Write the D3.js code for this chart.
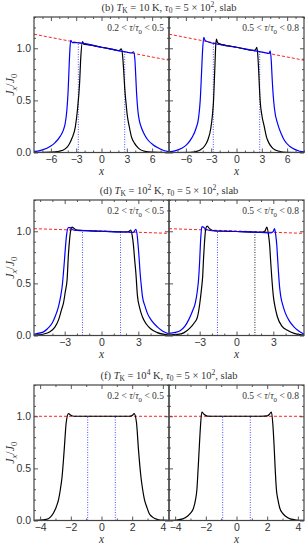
<!DOCTYPE html>
<html>
<head>
<meta charset="utf-8">
<script src="https://cdn.jsdelivr.net/npm/d3@7"></script>
<style>
body { margin: 0; background: #fff; }
svg { display: block; font-family: "Liberation Serif", "DejaVu Serif", serif; }
</style>
</head>
<body>
<div id="chart"></div>
<script>

// ---- values ----

// (b) T_K = 10 K
var bLeftBlack = [[-8,0],[-6,0.003],[-5,0.012],[-4.3,0.035],[-3.9,0.07],[-3.5,0.137],[-3.1,0.245],[-2.85,0.41],[-2.6,0.66],[-2.45,0.92],[-2.25,1.065],[-2.1,1.04],[-1.5,1.033],[0,1.01],[1.5,0.987],[2.1,0.978],[2.35,0.995],[2.5,0.93],[2.62,0.8],[2.75,0.62],[2.9,0.48],[3.05,0.36],[3.3,0.245],[3.55,0.15],[3.9,0.09],[4.4,0.04],[5.1,0.012],[6,0.003],[8,0]]
var bLeftBlue = [[-8,0.008],[-7,0.025],[-6.1,0.057],[-5.5,0.095],[-4.9,0.155],[-4.5,0.22],[-4.3,0.28],[-4.1,0.41],[-3.95,0.6],[-3.85,0.8],[-3.75,0.98],[-3.65,1.075],[-3.45,1.055],[-3,1.055],[0,1.01],[3,0.963],[3.55,0.955],[3.8,0.965],[3.95,0.9],[4.05,0.75],[4.15,0.58],[4.3,0.41],[4.5,0.3],[4.7,0.245],[5.1,0.17],[5.5,0.12],[6.1,0.075],[6.7,0.045],[7.3,0.022],[8,0.008]]
var bRightBlack = [[-8,0],[-5.5,0.002],[-4.8,0.01],[-4.3,0.025],[-3.8,0.06],[-3.4,0.12],[-3.05,0.23],[-2.85,0.36],[-2.72,0.5],[-2.62,0.7],[-2.55,0.85],[-2.48,1.0],[-2.38,1.088],[-2.25,1.055],[-2,1.042],[0,1.01],[2,0.979],[2.25,0.985],[2.4,1.008],[2.52,0.94],[2.62,0.8],[2.72,0.62],[2.82,0.48],[3,0.36],[3.3,0.245],[3.55,0.15],[3.85,0.09],[4.3,0.04],[5,0.012],[6,0.002],[8,0]]
var bRightBlue = [[-8,0.005],[-7.3,0.015],[-6.5,0.04],[-5.9,0.075],[-5.3,0.14],[-4.8,0.23],[-4.5,0.33],[-4.3,0.5],[-4.15,0.75],[-4.02,0.98],[-3.88,1.105],[-3.72,1.075],[-3.5,1.065],[0,1.01],[3.5,0.955],[3.85,0.95],[4,0.975],[4.12,0.88],[4.22,0.72],[4.35,0.55],[4.5,0.42],[4.9,0.27],[5.3,0.18],[5.65,0.12],[6.3,0.06],[6.9,0.03],[7.5,0.012],[8,0.005]]
var bRed = [[-8,1.135],[8,0.885]]
var bDotsBlue = [[-2.75,1.053],[2.75,0.967]]
var bTicks = [-6,-3,0,3,6]

// (d) T_K = 10^2 K
var dLeftBlack = [[-5.5,0.003],[-4.8,0.012],[-4.2,0.035],[-3.8,0.08],[-3.5,0.15],[-3.25,0.25],[-3.1,0.31],[-2.95,0.42],[-2.8,0.54],[-2.7,0.77],[-2.6,0.92],[-2.52,1.0],[-2.4,1.04],[-2.25,1.028],[-2,1.012],[0,1.0],[2,0.993],[2.25,1.0],[2.38,1.012],[2.5,0.96],[2.6,0.87],[2.7,0.73],[2.8,0.6],[2.93,0.38],[3.1,0.27],[3.33,0.18],[3.65,0.11],[4,0.065],[4.5,0.03],[5.1,0.01],[5.5,0.004]]
var dLeftBlue = [[-5.5,0.012],[-5,0.025],[-4.73,0.035],[-4.4,0.065],[-4.04,0.115],[-3.75,0.19],[-3.5,0.28],[-3.32,0.38],[-3.2,0.475],[-3.03,0.705],[-2.93,0.86],[-2.85,0.96],[-2.7,1.035],[-2.55,1.035],[-2.35,1.015],[-2,1.008],[0,1.0],[2,0.993],[2.6,0.99],[2.8,1.018],[2.92,0.95],[2.98,0.87],[3.06,0.75],[3.14,0.61],[3.25,0.47],[3.33,0.38],[3.55,0.28],[3.75,0.21],[4.1,0.14],[4.57,0.08],[5,0.04],[5.5,0.015]]
var dRightBlack = [[-5.5,0.005],[-4.8,0.01],[-4.3,0.025],[-3.8,0.07],[-3.45,0.12],[-3.2,0.17],[-3,0.3],[-2.85,0.45],[-2.76,0.56],[-2.68,0.75],[-2.62,0.87],[-2.55,0.98],[-2.48,1.035],[-2.38,1.05],[-2.2,1.025],[-1.8,1.005],[0,0.998],[2,0.99],[2.3,1.0],[2.48,1.04],[2.6,0.97],[2.7,0.87],[2.78,0.72],[2.86,0.58],[3,0.38],[3.15,0.27],[3.33,0.18],[3.7,0.09],[4.15,0.05],[4.7,0.02],[5.2,0.008],[5.5,0.005]]
var dRightBlue = [[-5.5,0.02],[-5,0.03],[-4.6,0.045],[-4.2,0.09],[-3.9,0.15],[-3.6,0.23],[-3.36,0.31],[-3.2,0.42],[-3.09,0.54],[-3,0.72],[-2.95,0.85],[-2.9,0.96],[-2.82,1.045],[-2.7,1.04],[-2.5,1.02],[-2,1.005],[0,0.998],[2,0.99],[2.8,0.985],[3,1.0],[3.1,1.025],[3.2,0.96],[3.28,0.87],[3.35,0.74],[3.42,0.61],[3.5,0.48],[3.6,0.38],[3.8,0.28],[4,0.21],[4.3,0.14],[4.7,0.08],[5.1,0.04],[5.5,0.012]]
var dRed = [[-5.5,1.025],[5.5,0.98]]
var dLeftDotsBlue = [[-1.55,1.0],[1.55,0.995]]
var dRightDotsBlue = [[-1.55,1.0]]
var dRightDotsBlack = [[1.5,0.99]]
var dTicks = [-3,0,3]

// (f) T_K = 10^4 K
var fLeftBlack = [[-4.4,0.002],[-4,0.003],[-3.6,0.01],[-3.35,0.03],[-3.14,0.07],[-2.95,0.13],[-2.8,0.2],[-2.68,0.3],[-2.57,0.42],[-2.43,0.68],[-2.3,0.94],[-2.15,1.025],[-2,1.01],[-1.8,1.0],[1.8,1.0],[2,1.008],[2.13,1.025],[2.28,0.94],[2.41,0.68],[2.57,0.42],[2.68,0.3],[2.8,0.2],[2.95,0.13],[3.1,0.07],[3.35,0.03],[3.66,0.01],[4,0.003],[4.4,0.002]]
var fRightBlack = [[-4.4,0.002],[-3.9,0.005],[-3.5,0.015],[-3.2,0.04],[-3,0.07],[-2.8,0.12],[-2.67,0.2],[-2.58,0.3],[-2.5,0.5],[-2.42,0.72],[-2.35,0.9],[-2.26,1.04],[-2.12,1.02],[-1.9,1.002],[-1.5,1.0],[1.6,1.0],[2,1.003],[2.15,1.02],[2.28,1.04],[2.38,0.9],[2.45,0.72],[2.52,0.5],[2.6,0.3],[2.7,0.2],[2.82,0.12],[3,0.07],[3.2,0.04],[3.5,0.015],[3.9,0.005],[4.4,0.002]]
var fRed = [[-4.4,1.0],[4.4,1.0]]
var fDotsBlue = [[-0.9,1.0],[0.9,1.0]]
var fTicks = [-4,-2,0,2,4]

var yTicks = [0, 0.5, 1.0]

// labels
var tauLow = [{t:"0.2 < "},{t:"τ",i:1},{t:"/"},{t:"τ",i:1},{t:"0",s:"sub"},{t:" < 0.5"}]
var tauHigh = [{t:"0.5 < "},{t:"τ",i:1},{t:"/"},{t:"τ",i:1},{t:"0",s:"sub"},{t:" < 0.8"}]
var bTitle = [{t:"(b) "},{t:"T",i:1},{t:"K",s:"sub"},{t:" = 10 K, "},{t:"τ",i:1},{t:"0",s:"sub"},{t:" = 5 × 10"},{t:"2",s:"sup"},{t:", slab"}]
var dTitle = [{t:"(d) "},{t:"T",i:1},{t:"K",s:"sub"},{t:" = 10"},{t:"2",s:"sup"},{t:" K, "},{t:"τ",i:1},{t:"0",s:"sub"},{t:" = 5 × 10"},{t:"2",s:"sup"},{t:", slab"}]
var fTitle = [{t:"(f) "},{t:"T",i:1},{t:"K",s:"sub"},{t:" = 10"},{t:"4",s:"sup"},{t:" K, "},{t:"τ",i:1},{t:"0",s:"sub"},{t:" = 5 × 10"},{t:"2",s:"sup"},{t:", slab"}]
var yLabel = [{t:"J",i:1},{t:"x",i:1,s:"sub"},{t:"/"},{t:"J",i:1},{t:"0",s:"sub"}]


// ---- layout ----
var W = 305, H = 545
var left = 34, panelW = 135, panelH = 135.5
var yMax = 1.3
var axisCol = "#444", textCol = "#333"

var svg = d3.select("#chart").append("svg")
	.attr("width", W)
	.attr("height", H)

var rows = [
	{ top: 17, xDomain: [-8, 8], ticks: bTicks, title: bTitle, red: bRed,
	  panels: [ {black: bLeftBlack, blue: bLeftBlue, dotsBlue: bDotsBlue, dotsBlack: [], label: tauLow},
	            {black: bRightBlack, blue: bRightBlue, dotsBlue: bDotsBlue, dotsBlack: [], label: tauHigh} ] },
	{ top: 200, xDomain: [-5.5, 5.5], ticks: dTicks, title: dTitle, red: dRed,
	  panels: [ {black: dLeftBlack, blue: dLeftBlue, dotsBlue: dLeftDotsBlue, dotsBlack: [], label: tauLow},
	            {black: dRightBlack, blue: dRightBlue, dotsBlue: dRightDotsBlue, dotsBlack: dRightDotsBlack, label: tauHigh} ] },
	{ top: 385, xDomain: [-4.4, 4.4], ticks: fTicks, title: fTitle, red: fRed,
	  panels: [ {black: fLeftBlack, blue: null, dotsBlue: fDotsBlue, dotsBlack: [], label: tauLow},
	            {black: fRightBlack, blue: null, dotsBlue: fDotsBlue, dotsBlack: [], label: tauHigh} ] }
]

// writes a list of pieces (italic, sub, sup) into a text element
function rich (textSel, parts, size) {
	var shift = 0
	parts.forEach(function (p) {
		var target = 0, fs = size
		if (p.s == "sub") { target = size * 0.28; fs = size * 0.72 }
		if (p.s == "sup") { target = -size * 0.36; fs = size * 0.72 }
		textSel.append("tspan")
			.attr("dy", target - shift)
			.attr("font-size", fs)
			.style("font-style", p.i ? "italic" : null)
			.text(p.t)
		shift = target
	})
}

function styleAxis (g) {
	g.select(".domain").remove()
	g.selectAll(".tick line").attr("stroke", axisCol).attr("stroke-width", 0.9)
	g.selectAll(".tick text").attr("fill", textCol).attr("font-size", 10.5)
}

var line = d3.line().curve(d3.curveMonotoneX)

function dotted (plot, data, x, y, colour) {
	plot.selectAll(null)
		.data(data)
		.enter()
		.append("line")
		.attr("x1", function (d) { return x(d[0]) })
		.attr("x2", function (d) { return x(d[0]) })
		.attr("y1", y(0))
		.attr("y2", function (d) { return y(d[1]) })
		.attr("stroke", colour)
		.attr("stroke-width", 1)
		.attr("stroke-dasharray", "1,1.5")
}

rows.forEach(function (row, r) {

	var top = row.top
	var y = d3.scaleLinear().domain([0, yMax]).range([top + panelH, top])
	var minor = d3.range(Math.ceil(row.xDomain[0]), row.xDomain[1] + 0.001, 1)
		.filter(function (v) { return row.ticks.indexOf(v) < 0 })
	var yMinor = d3.range(0, yMax + 0.001, 0.1).filter(function (v) { return Math.abs(v - 0.5) > 0.01 && Math.abs(v - 1) > 0.01 && v > 0.01 })

	// title
	svg.append("text")
		.attr("x", left + panelW)
		.attr("y", top - 6.5)
		.attr("text-anchor", "middle")
		.attr("fill", textCol)
		.call(rich, row.title, 10.5)

	// y label
	svg.append("text")
		.attr("transform", "translate(13.5," + (top + panelH / 2) + ") rotate(-90)")
		.attr("text-anchor", "middle")
		.attr("fill", textCol)
		.call(rich, yLabel, 12)

	row.panels.forEach(function (pan, p) {

		var x0 = left + p * panelW
		var x = d3.scaleLinear().domain(row.xDomain).range([x0, x0 + panelW])
		var g = svg.append("g")

		var clipId = "clip-" + r + "-" + p
		g.append("clipPath").attr("id", clipId)
			.append("rect")
			.attr("x", x0).attr("y", top)
			.attr("width", panelW).attr("height", panelH)

		var plot = g.append("g").attr("clip-path", "url(#" + clipId + ")")

		// red dashed reference line
		plot.append("path")
			.attr("d", line(row.red.map(function (d) { return [x(d[0]), y(d[1])] })))
			.attr("fill", "none")
			.attr("stroke", "#ff2020")
			.attr("stroke-width", 1)
			.attr("stroke-dasharray", "3,2")

		dotted(plot, pan.dotsBlue, x, y, "#5050ff")
		dotted(plot, pan.dotsBlack, x, y, "#222")

		plot.append("path")
			.attr("d", line(pan.black.map(function (d) { return [x(d[0]), y(d[1])] })))
			.attr("fill", "none")
			.attr("stroke", "#000")
			.attr("stroke-width", 1.2)

		if (pan.blue) {
			plot.append("path")
				.attr("d", line(pan.blue.map(function (d) { return [x(d[0]), y(d[1])] })))
				.attr("fill", "none")
				.attr("stroke", "#0000ff")
				.attr("stroke-width", 1.2)
		}

		// axes, ticks pointing inward on all four sides
		g.append("g").attr("transform", "translate(0," + (top + panelH) + ")")
			.call(d3.axisBottom(x).tickValues(row.ticks).tickSize(-4).tickPadding(3).tickFormat(d3.format("d")))
			.call(styleAxis)
		g.append("g").attr("transform", "translate(0," + (top + panelH) + ")")
			.call(d3.axisBottom(x).tickValues(minor).tickSize(-2).tickFormat(""))
			.call(styleAxis)
		g.append("g").attr("transform", "translate(0," + top + ")")
			.call(d3.axisTop(x).tickValues(row.ticks).tickSize(-4).tickFormat(""))
			.call(styleAxis)
		g.append("g").attr("transform", "translate(0," + top + ")")
			.call(d3.axisTop(x).tickValues(minor).tickSize(-2).tickFormat(""))
			.call(styleAxis)

		g.append("g").attr("transform", "translate(" + x0 + ",0)")
			.call(d3.axisLeft(y).tickValues(yTicks).tickSize(-4).tickPadding(3)
				.tickFormat(p == 0 ? d3.format(".1f") : ""))
			.call(styleAxis)
		g.append("g").attr("transform", "translate(" + x0 + ",0)")
			.call(d3.axisLeft(y).tickValues(yMinor).tickSize(-2).tickFormat(""))
			.call(styleAxis)
		g.append("g").attr("transform", "translate(" + (x0 + panelW) + ",0)")
			.call(d3.axisRight(y).tickValues(yTicks).tickSize(-4).tickFormat(""))
			.call(styleAxis)
		g.append("g").attr("transform", "translate(" + (x0 + panelW) + ",0)")
			.call(d3.axisRight(y).tickValues(yMinor).tickSize(-2).tickFormat(""))
			.call(styleAxis)

		g.append("rect")
			.attr("x", x0).attr("y", top)
			.attr("width", panelW).attr("height", panelH)
			.attr("fill", "none")
			.attr("stroke", axisCol)
			.attr("stroke-width", 1.2)

		// tau range label
		g.append("text")
			.attr("x", x0 + panelW - 5)
			.attr("y", top + 14)
			.attr("text-anchor", "end")
			.attr("fill", textCol)
			.call(rich, pan.label, 9.5)

		// x label
		g.append("text")
			.attr("x", x0 + panelW / 2)
			.attr("y", top + panelH + 22)
			.attr("text-anchor", "middle")
			.attr("fill", textCol)
			.style("font-style", "italic")
			.attr("font-size", 11.5)
			.text("x")
	})
})

</script>
</body>
</html>
